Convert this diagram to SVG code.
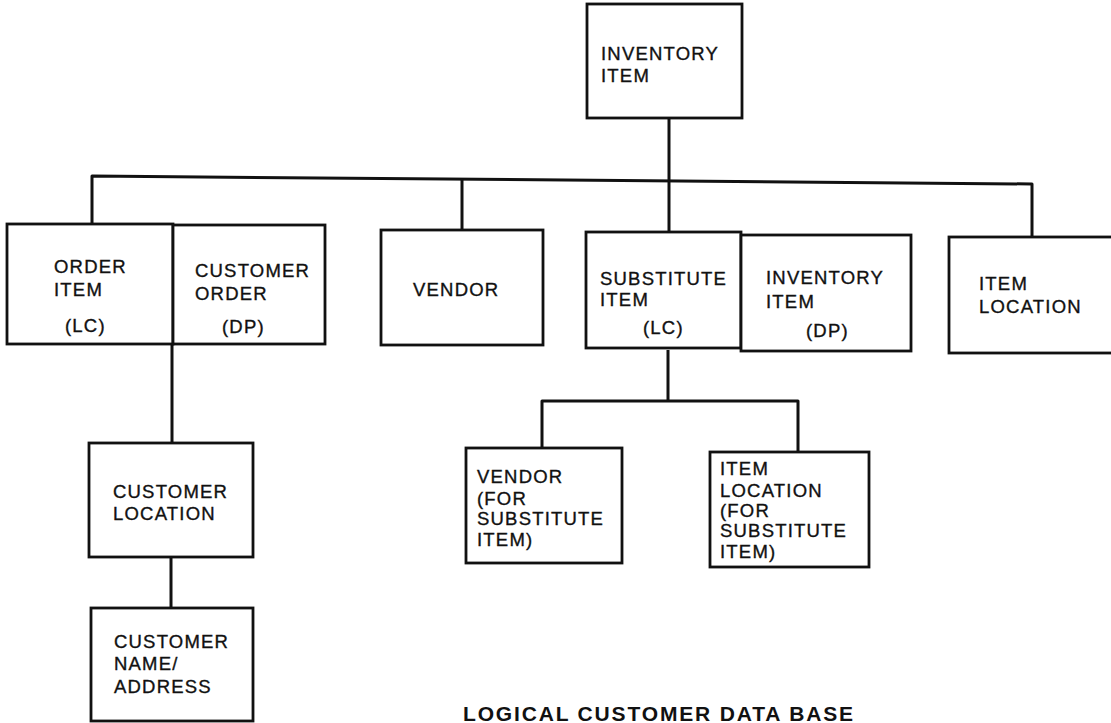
<svg xmlns="http://www.w3.org/2000/svg" width="1111" height="723" viewBox="0 0 1111 723">
  <style>
    .box { fill: #ffffff; stroke: #111111; stroke-width: 2.8; }
    .link { fill: none; stroke: #111111; stroke-width: 3; stroke-linejoin: round; }
    .lbl { font-family: "Liberation Sans", Arial, sans-serif; font-size: 18.5px; letter-spacing: 1.2px; fill: #111111; stroke: #111111; stroke-width: 0.35; }
    .cap { font-family: "Liberation Sans", Arial, sans-serif; font-size: 21px; font-weight: bold; letter-spacing: 2px; fill: #111111; }
  </style>
  <rect width="1111" height="723" fill="#ffffff"/>

  <!-- connectors -->
  <g id="connectors">
    <path class="link" d="M669 118 V232"/>
    <path class="link" d="M92 224 V176 L1032 184 V237"/>
    <path class="link" d="M462 178.5 V230"/>
    <path class="link" d="M172 344 V443"/>
    <path class="link" d="M171 557 V608"/>
    <path class="link" d="M668 350 V402"/>
    <path class="link" d="M542 448 V401 H798 V452"/>
  </g>

  <g id="inventory-item">
    <rect class="box" x="587" y="4" width="155" height="114"/>
    <text class="lbl" x="601" y="60">INVENTORY</text>
    <text class="lbl" x="601" y="82">ITEM</text>
  </g>

  <g id="order-item">
    <rect class="box" x="7" y="224" width="166" height="120"/>
    <text class="lbl" x="54" y="273">ORDER</text>
    <text class="lbl" x="54" y="296">ITEM</text>
    <text class="lbl" x="65" y="332">(LC)</text>
  </g>

  <g id="customer-order">
    <rect class="box" x="173" y="225" width="152" height="119"/>
    <text class="lbl" x="195" y="277">CUSTOMER</text>
    <text class="lbl" x="195" y="300">ORDER</text>
    <text class="lbl" x="222" y="333">(DP)</text>
  </g>

  <g id="vendor">
    <rect class="box" x="381" y="230" width="162" height="115"/>
    <text class="lbl" x="413" y="296">VENDOR</text>
  </g>

  <g id="substitute-item">
    <rect class="box" x="586" y="232" width="155" height="116"/>
    <text class="lbl" x="600" y="285">SUBSTITUTE</text>
    <text class="lbl" x="600" y="306">ITEM</text>
    <text class="lbl" x="643" y="334">(LC)</text>
  </g>

  <g id="inventory-item-dp">
    <rect class="box" x="741" y="235" width="170" height="116"/>
    <text class="lbl" x="766" y="284">INVENTORY</text>
    <text class="lbl" x="766" y="308">ITEM</text>
    <text class="lbl" x="806" y="337">(DP)</text>
  </g>

  <g id="item-location">
    <rect class="box" x="949" y="237" width="170" height="116"/>
    <text class="lbl" x="979" y="290">ITEM</text>
    <text class="lbl" x="979" y="313">LOCATION</text>
  </g>

  <g id="customer-location">
    <rect class="box" x="89" y="443" width="164" height="114"/>
    <text class="lbl" x="113" y="498">CUSTOMER</text>
    <text class="lbl" x="113" y="520">LOCATION</text>
  </g>

  <g id="customer-name-address">
    <rect class="box" x="91" y="608" width="162" height="113"/>
    <text class="lbl" x="114" y="648">CUSTOMER</text>
    <text class="lbl" x="114" y="670">NAME/</text>
    <text class="lbl" x="114" y="693">ADDRESS</text>
  </g>

  <g id="vendor-for-substitute">
    <rect class="box" x="466" y="448" width="156" height="115"/>
    <text class="lbl" x="477" y="483">VENDOR</text>
    <text class="lbl" x="477" y="505">(FOR</text>
    <text class="lbl" x="477" y="525">SUBSTITUTE</text>
    <text class="lbl" x="477" y="546">ITEM)</text>
  </g>

  <g id="item-location-for-substitute">
    <rect class="box" x="710" y="452" width="159" height="115"/>
    <text class="lbl" x="720" y="475">ITEM</text>
    <text class="lbl" x="720" y="497">LOCATION</text>
    <text class="lbl" x="720" y="517">(FOR</text>
    <text class="lbl" x="720" y="537">SUBSTITUTE</text>
    <text class="lbl" x="720" y="558">ITEM)</text>
  </g>

  <text class="cap" x="463" y="721" textLength="392" lengthAdjust="spacing">LOGICAL CUSTOMER DATA BASE</text>
</svg>
